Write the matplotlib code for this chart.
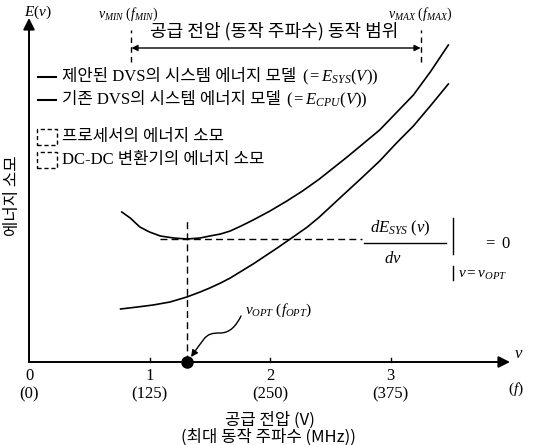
import matplotlib
matplotlib.use("Agg")
import matplotlib.pyplot as plt
from matplotlib.patches import FancyArrowPatch, Rectangle
from matplotlib.path import Path

plt.rcParams['mathtext.fontset'] = 'custom'
plt.rcParams['mathtext.rm'] = 'Liberation Serif'
plt.rcParams['mathtext.it'] = 'Liberation Serif:italic'
plt.rcParams['mathtext.bf'] = 'Liberation Serif:bold'

KR = 'Noto Sans CJK KR'
MIX = ['Liberation Serif', 'Noto Sans CJK KR']

# 데이터 (전압 V, 에너지 임의 단위)
v_sys = [0.77, 0.84, 0.92, 1.00, 1.09, 1.20, 1.31, 1.42, 1.50, 1.59, 1.67, 1.76,
         1.86, 2.00, 2.14, 2.27, 2.41, 2.64, 2.91, 3.19, 3.33, 3.48]
e_sys = [1.50, 1.44, 1.35, 1.30, 1.26, 1.24, 1.23, 1.24, 1.26, 1.28, 1.31, 1.36,
         1.42, 1.51, 1.61, 1.71, 1.83, 2.05, 2.32, 2.67, 2.90, 3.17]

v_cpu = [0.76, 0.90, 1.03, 1.17, 1.31, 1.42, 1.50, 1.59, 1.67, 1.86, 2.06,
         2.18, 2.31, 2.41, 2.58, 2.76, 2.91, 3.05, 3.19, 3.33, 3.48]
e_cpu = [0.53, 0.55, 0.57, 0.60, 0.65, 0.70, 0.74, 0.79, 0.84, 0.98, 1.14,
         1.24, 1.35, 1.45, 1.64, 1.84, 2.01, 2.19, 2.36, 2.56, 2.78]

v_ticks = [0, 1, 2, 3]
f_ticks = ['(0)', '(125)', '(250)', '(375)']

v_min = 0.85
v_max = 3.25
v_opt = 1.31
e_opt = 1.23


def px(x, y):
    # 그림 픽셀 좌표 -> 데이터 좌표
    return ((x - 29) / 120.5, (362 - y) / 100)


fig = plt.figure(figsize=(5.33, 4.45), dpi=100)
ax = fig.add_axes([0, 0, 1, 1])
ax.set_xlim(px(0, 0)[0], px(533, 0)[0])
ax.set_ylim(px(0, 445)[1], px(0, 0)[1])
ax.axis('off')

# 축
ax.add_patch(FancyArrowPatch((0, 0), px(510, 362), arrowstyle='-|>', mutation_scale=17, lw=1.4, color='k', shrinkA=0, shrinkB=0))
ax.add_patch(FancyArrowPatch((0, 0), px(29, 18), arrowstyle='-|>', mutation_scale=17, lw=1.4, color='k', shrinkA=0, shrinkB=0))
for v in v_ticks[1:]:
    ax.plot([v, v], [0, 0.04], color='k', lw=1)

for v, lab in zip(v_ticks, f_ticks):
    ax.text(v, px(0, 376)[1], str(v), ha='center', va='center', fontsize=12, family='Liberation Serif')
    ax.text(v, px(0, 394)[1], lab, ha='center', va='center', fontsize=12, family='Liberation Serif')

ax.text(*px(519, 353), '$v$', ha='center', va='center', fontsize=12)
ax.text(*px(516, 389), '$(f)$', ha='center', va='center', fontsize=11)
ax.text(*px(38, 12), '$E(v)$', ha='center', va='center', fontsize=11)

ax.text(*px(270, 420), '공급 전압 (V)', ha='center', va='center', fontsize=12, family=KR)
ax.text(*px(268, 437), '(최대 동작 주파수 (MHz))', ha='center', va='center', fontsize=12, family=KR)
ax.text(*px(12, 196), '에너지 소모', ha='center', va='center', fontsize=12, family=KR, rotation=90)

# 곡선
ax.plot(v_sys, e_sys, color='k', lw=1.2)
ax.plot(v_cpu, e_cpu, color='k', lw=1.2)

# 최적점
ax.plot([v_opt, v_opt], [0, px(0, 218)[1]], color='k', lw=1, ls=(0, (5, 3)))
ax.plot([px(160, 0)[0], px(362, 0)[0]], [e_opt, e_opt], color='k', lw=1, ls=(0, (5, 3)))
ax.plot([v_opt], [0], 'o', color='k', markersize=8)

# 동작 범위
top, bot = px(0, 30)[1], px(0, 62)[1]
for v in (v_min, v_max):
    ax.plot([v, v], [bot, top], color='k', lw=1, ls=(0, (4, 3)))
ax.add_patch(FancyArrowPatch((v_min, px(0, 48)[1]), (v_max, px(0, 48)[1]), arrowstyle='<|-|>', mutation_scale=9, lw=1, color='k', shrinkA=0, shrinkB=0))
ax.text(*px(274, 31), '공급 전압 (동작 주파수) 동작 범위', ha='center', va='center', fontsize=13, family=KR)
ax.text(*px(128, 14), r'$v_{MIN}\ (f_{MIN})$', ha='center', va='center', fontsize=10)
ax.text(*px(420, 14), r'$v_{MAX}\ (f_{MAX})$', ha='center', va='center', fontsize=10)

# 범례
for y, txt, eq in [(77, '제안된 DVS의 시스템 에너지 모델', r'$(=E_{SYS}(V))$'),
                   (100, '기존 DVS의 시스템 에너지 모델', r'$(=E_{CPU}(V))$')]:
    (x0, y0), (x1, _) = px(38, y), px(56, y)
    ax.plot([x0, x1], [y0, y0], color='k', lw=1.5)
    t = ax.text(*px(62, y), txt, ha='left', va='center', fontsize=12, family=MIX)
    ax.annotate(eq, xy=(1, 0.5), xycoords=t, xytext=(4, 0), textcoords='offset points', ha='left', va='center', fontsize=12)

for y, txt in [(137, '프로세서의 에너지 소모'), (160, 'DC-DC 변환기의 에너지 소모')]:
    (x0, y0) = px(37, y + 8)
    (x1, y1) = px(57, y - 8)
    ax.add_patch(Rectangle((x0, y0), x1 - x0, y1 - y0, fill=False, lw=1, ls=(0, (3, 2)), ec='k'))
    ax.text(*px(62, y), txt, ha='left', va='center', fontsize=12, family=MIX)

# 수식
ax.text(*px(400, 228), r'$dE_{SYS}\ (v)$', ha='center', va='center', fontsize=12)
ax.plot([px(364, 0)[0], px(446, 0)[0]], [px(0, 243)[1]] * 2, color='k', lw=1)
ax.text(*px(393, 258), r'$dv$', ha='center', va='center', fontsize=12)
ax.plot([px(453, 0)[0]] * 2, [px(0, 218)[1], px(0, 254)[1]], color='k', lw=1)
ax.plot([px(453, 0)[0]] * 2, [px(0, 266)[1], px(0, 280)[1]], color='k', lw=1)
ax.text(*px(497, 243), r'$=\ 0$', ha='center', va='center', fontsize=12)
ax.text(*px(458, 274), r'$v{=}v_{OPT}$', ha='left', va='center', fontsize=11)

# v_OPT 표시
ax.text(*px(245, 310), r'$v_{OPT}\ (f_{OPT})$', ha='left', va='center', fontsize=11)
verts = [px(241, 316), px(236, 326), px(230, 333), px(220, 333),
         px(212, 333), px(208, 334), px(204, 339),
         px(200, 344), px(196, 350), px(191, 357)]
codes = [Path.MOVETO] + [Path.CURVE4] * 9
ax.add_patch(FancyArrowPatch(path=Path(verts, codes), arrowstyle='-|>', mutation_scale=10, lw=1, color='k'))

fig.savefig('out.png', dpi=100)
